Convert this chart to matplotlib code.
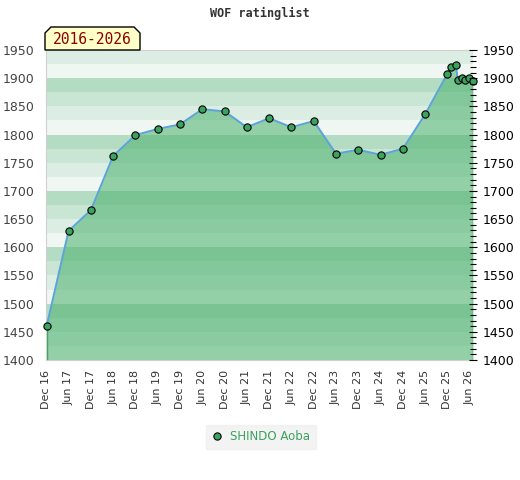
import numpy as np
import pandas as pd
import matplotlib
matplotlib.use('Agg')
import matplotlib.pyplot as plt
import matplotlib.dates as mdates
from matplotlib.patches import Polygon
from matplotlib.ticker import MultipleLocator

# rating history
dates = ['2016-12-03', '2017-06-01', '2017-12-01', '2018-06-01', '2018-12-01',
         '2019-06-01', '2019-12-01', '2020-06-01', '2020-12-01', '2021-06-01',
         '2021-12-01', '2022-06-01', '2022-12-01', '2023-06-01', '2023-12-01',
         '2024-06-01', '2024-12-01', '2025-06-01', '2025-11-28', '2026-01-01',
         '2026-02-07', '2026-02-25', '2026-03-28', '2026-04-22', '2026-05-25',
         '2026-06-28']
ratings = [1460, 1629, 1666, 1762, 1799, 1810, 1818, 1845, 1841, 1813,
           1829, 1813, 1824, 1766, 1773, 1764, 1775, 1836, 1907, 1919,
           1923, 1896, 1900, 1896, 1900, 1895]
player = 'SHINDO Aoba'
period_label = '2016-2026'
title = 'WOF ratinglist'

tick_dates = pd.date_range('2016-12-01', '2026-06-01', freq='6MS')
tick_labels = [d.strftime('%b %y') for d in tick_dates]

x = pd.to_datetime(dates)
ymin, ymax = 1400, 1950

fig = plt.figure(figsize=(5.2, 4.8), dpi=100)
ax = fig.add_axes([46/520, 1 - 360/480, 427/520, 310/480])

# background bands, 4 shades per 100 points
band_cols = ['#f0f7f2', '#dceee3', '#c8e6d3', '#b3dcc2']
for lo in range(ymin, ymax, 25):
    ax.axhspan(lo, lo + 25, color=band_cols[(lo // 25) % 4], lw=0, zorder=0)

ax.fill_between(x, ratings, ymin, color=(81/255, 179/255, 114/255), alpha=0.58,
                lw=0, zorder=1)
ax.plot([x[0], x[0]], [ymin, ratings[0]], color='#3aa35d', lw=1, zorder=2)
ax.plot([x[-1], x[-1]], [ymin, ratings[-1]], color='#3aa35d', lw=1, zorder=2)
ax.plot(x, ratings, color='#5ba3d9', lw=1.4, zorder=3)
ax.plot(x, ratings, ls='none', marker='o', ms=5.2, mfc='#3aa35d', mec='black',
        mew=0.8, zorder=4, label=player, clip_on=False)

ax.set_xlim(pd.Timestamp('2016-11-28'), x[-1])
ax.set_ylim(ymin, ymax)
ax.set_xticks(tick_dates)
ax.set_xticklabels(tick_labels, rotation=90, fontsize=8, color='#333333')
ax.set_yticks(range(ymin, ymax + 1, 50))
ax.tick_params(axis='y', labelsize=9, colors='#444444', length=0, pad=8)
ax.tick_params(axis='x', length=0, pad=7)

for s in ['left', 'bottom', 'top']:
    ax.spines[s].set_color('#d0d0d0')
ax.spines['right'].set_visible(False)

# right axis with minor ticks
ax2 = ax.twinx()
ax2.set_ylim(ymin, ymax)
ax2.set_yticks(range(ymin, ymax + 1, 50))
ax2.yaxis.set_minor_locator(MultipleLocator(10))
ax2.tick_params(axis='y', which='major', direction='inout', length=6, width=0.8,
                labelsize=9, colors='black', pad=4)
ax2.tick_params(axis='y', which='minor', direction='inout', length=4, width=0.8,
                colors='black')
for s in ax2.spines.values():
    s.set_visible(False)

fig.text(0.5, 1 - 13/480, title, ha='center', va='center', fontsize=8.5,
         family='DejaVu Sans Mono', fontweight='bold', color='#333333')

# period label box with cut corners
px = [(45, 50), (45, 33), (51, 27), (134, 27), (140, 33), (140, 50)]
poly = Polygon([(a / 520, 1 - b / 480) for a, b in px], closed=True,
               transform=fig.transFigure, fc='#ffffc8', ec='black', lw=1,
               zorder=10)
fig.patches.append(poly)
fig.text(92.5 / 520, 1 - 39.5 / 480, period_label, ha='center', va='center',
         fontsize=10.5, family='DejaVu Sans Mono', color='#8b0000', zorder=11)

leg = fig.legend(loc='center', bbox_to_anchor=(261 / 520, 1 - 437 / 480),
                 frameon=True, fontsize=8.5, handlelength=1, handletextpad=0.6,
                 borderpad=0.5, fancybox=False, markerscale=1)
leg.get_frame().set_facecolor('#f0f0f0')
leg.get_frame().set_edgecolor('#f0f0f0')
for t in leg.get_texts():
    t.set_color('#3aa35d')

plt.savefig('out.png', dpi=100)
